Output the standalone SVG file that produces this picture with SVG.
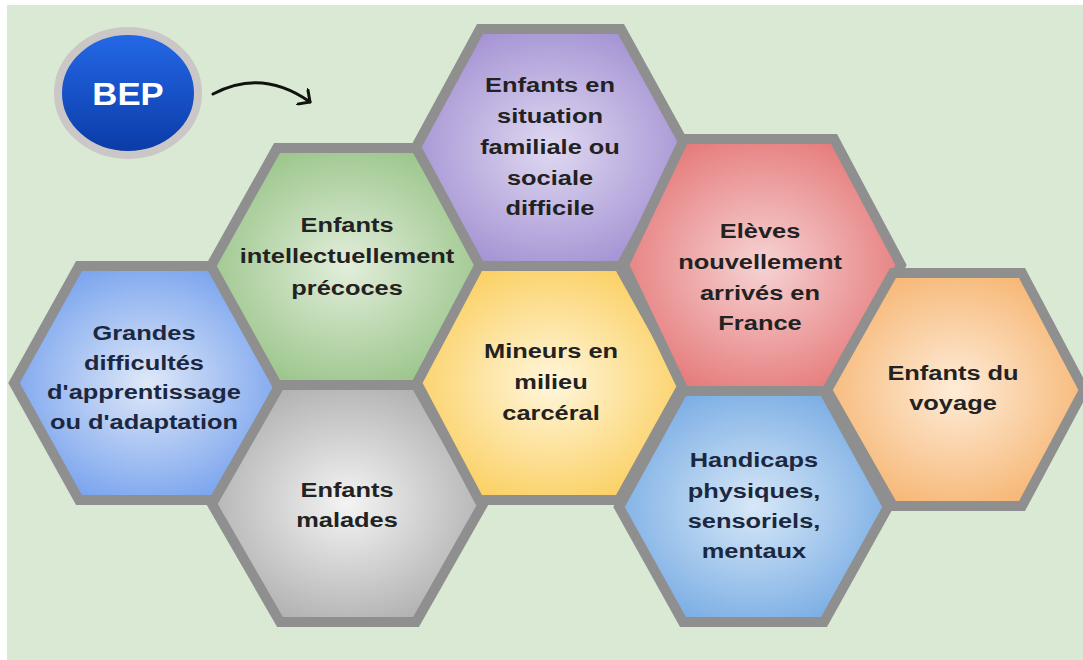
<svg xmlns="http://www.w3.org/2000/svg" width="1083" height="660" viewBox="0 0 1083 660">
  <defs>
    <style>
      .hex { stroke: #8f8f8f; stroke-width: 10; stroke-linejoin: miter; }
      .lbl { font-family: "Liberation Sans", Arial, sans-serif; font-weight: bold; font-size: 20px; fill: #222222; text-anchor: middle; }
      .lbl.navy { fill: #1c2740; }
      .bep { font-family: "Liberation Sans", Arial, sans-serif; font-weight: bold; font-size: 31px; fill: #ffffff; text-anchor: middle; }
      .conn { fill: none; stroke: #111111; stroke-width: 3; stroke-linecap: round; }
    </style>
    <radialGradient id="gBlue" cx="0.5" cy="0.5" r="0.55"><stop offset="0" stop-color="#dfe8f8"/><stop offset="1" stop-color="#78a3ee"/></radialGradient>
    <radialGradient id="gGreen" cx="0.5" cy="0.5" r="0.55"><stop offset="0" stop-color="#e2eedb"/><stop offset="1" stop-color="#9ac58a"/></radialGradient>
    <radialGradient id="gGray" cx="0.5" cy="0.5" r="0.55"><stop offset="0" stop-color="#f4f4f4"/><stop offset="1" stop-color="#b0b0b0"/></radialGradient>
    <radialGradient id="gPurple" cx="0.5" cy="0.5" r="0.55"><stop offset="0" stop-color="#dfd9f1"/><stop offset="1" stop-color="#a492d3"/></radialGradient>
    <radialGradient id="gYellow" cx="0.5" cy="0.5" r="0.55"><stop offset="0" stop-color="#fff6dc"/><stop offset="1" stop-color="#fbd062"/></radialGradient>
    <radialGradient id="gRed" cx="0.5" cy="0.5" r="0.55"><stop offset="0" stop-color="#f6d3d4"/><stop offset="1" stop-color="#e67b7b"/></radialGradient>
    <radialGradient id="gLBlue" cx="0.5" cy="0.5" r="0.55"><stop offset="0" stop-color="#d7e8f7"/><stop offset="1" stop-color="#7aade4"/></radialGradient>
    <radialGradient id="gOrange" cx="0.5" cy="0.5" r="0.55"><stop offset="0" stop-color="#feecd9"/><stop offset="1" stop-color="#f6b673"/></radialGradient>
    <linearGradient id="gBep" x1="0" y1="0" x2="0" y2="1"><stop offset="0" stop-color="#2569e8"/><stop offset="1" stop-color="#0a3aa6"/></linearGradient>
    <marker id="arr" viewBox="0 0 12 20" refX="10" refY="10" markerWidth="12" markerHeight="20" markerUnits="userSpaceOnUse" orient="auto">
      <path d="M1,1 L10,10 L1,19" fill="none" stroke="#111111" stroke-width="3" stroke-linecap="round" stroke-linejoin="round"/>
    </marker>
  </defs>

  <rect x="0" y="0" width="1083" height="660" fill="#ffffff"/>
  <rect x="7" y="5" width="1076" height="655" fill="#d9e9d3"/>

  <g id="bep">
    <ellipse cx="128" cy="93" rx="70" ry="62" fill="url(#gBep)" stroke="#cbc7c7" stroke-width="8"/>
    <text class="bep" transform="translate(128,0) scale(1.12,1)" x="0" y="105">BEP</text>
  </g>

  <g id="connectors">
    <path class="conn" d="M213,94 Q262,68 310,102" marker-end="url(#arr)"/>
  </g>

  <g id="hex-grandes">
    <path class="hex" fill="url(#gBlue)" d="M79,266 L216,266 L281,383 L216,500 L79,500 L14,383 Z"/>
    <text class="lbl navy" transform="translate(144,0) scale(1.27,1)"><tspan x="0" y="340">Grandes</tspan><tspan x="0" y="370">difficultés</tspan><tspan x="0" y="399">d'apprentissage</tspan><tspan x="0" y="429">ou d'adaptation</tspan></text>
  </g>

  <g id="hex-precoces">
    <path class="hex" fill="url(#gGreen)" d="M277,148 L416,148 L483,266 L416,385 L277,385 L211,266 Z"/>
    <text class="lbl" transform="translate(347,0) scale(1.27,1)"><tspan x="0" y="232">Enfants</tspan><tspan x="0" y="263">intellectuellement</tspan><tspan x="0" y="295">précoces</tspan></text>
  </g>

  <g id="hex-malades">
    <path class="hex" fill="url(#gGray)" d="M280,385 L416,385 L483,504 L416,622 L280,622 L212,504 Z"/>
    <text class="lbl" transform="translate(347,0) scale(1.27,1)"><tspan x="0" y="497">Enfants</tspan><tspan x="0" y="527">malades</tspan></text>
  </g>

  <g id="hex-situation">
    <path class="hex" fill="url(#gPurple)" d="M480,29 L621,29 L686,147 L621,266 L480,266 L416,147 Z"/>
    <text class="lbl" transform="translate(550,0) scale(1.27,1)"><tspan x="0" y="92">Enfants en</tspan><tspan x="0" y="123">situation</tspan><tspan x="0" y="154">familiale ou</tspan><tspan x="0" y="185">sociale</tspan><tspan x="0" y="215">difficile</tspan></text>
  </g>

  <g id="hex-mineurs">
    <path class="hex" fill="url(#gYellow)" d="M479,266 L619,266 L684,383 L619,500 L479,500 L417,383 Z"/>
    <text class="lbl" transform="translate(551,0) scale(1.27,1)"><tspan x="0" y="358">Mineurs en</tspan><tspan x="0" y="389">milieu</tspan><tspan x="0" y="420">carcéral</tspan></text>
  </g>

  <g id="hex-eleves">
    <path class="hex" fill="url(#gRed)" d="M684,139 L834,139 L901,265 L834,391 L684,391 L624,265 Z"/>
    <text class="lbl" transform="translate(760,0) scale(1.27,1)"><tspan x="0" y="238">Elèves</tspan><tspan x="0" y="269">nouvellement</tspan><tspan x="0" y="300">arrivés en</tspan><tspan x="0" y="330">France</tspan></text>
  </g>

  <g id="hex-handicaps">
    <path class="hex" fill="url(#gLBlue)" d="M683,391 L824,391 L888,507 L824,622 L683,622 L619,507 Z"/>
    <text class="lbl navy" transform="translate(754,0) scale(1.27,1)"><tspan x="0" y="467">Handicaps</tspan><tspan x="0" y="498">physiques,</tspan><tspan x="0" y="528">sensoriels,</tspan><tspan x="0" y="558">mentaux</tspan></text>
  </g>

  <g id="hex-voyage">
    <path class="hex" fill="url(#gOrange)" d="M893,273 L1022,273 L1084,390 L1022,506 L893,506 L827,390 Z"/>
    <text class="lbl" transform="translate(953,0) scale(1.27,1)"><tspan x="0" y="380">Enfants du</tspan><tspan x="0" y="410">voyage</tspan></text>
  </g>
</svg>
